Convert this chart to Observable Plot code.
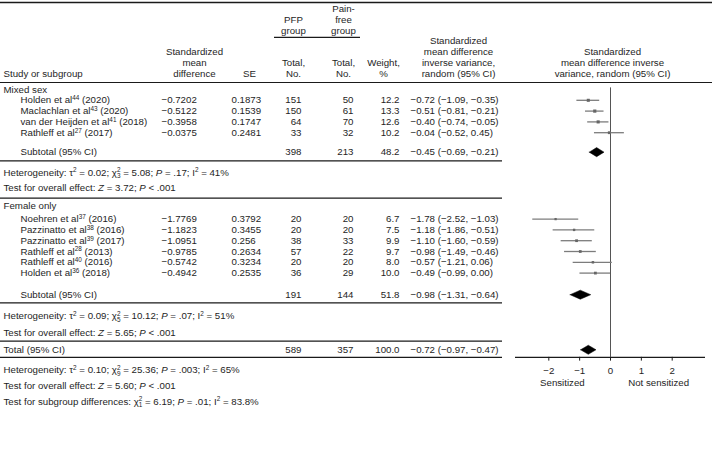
<!DOCTYPE html>
<html><head><meta charset="utf-8">
<script src="https://cdn.jsdelivr.net/npm/d3@7"></script>
<script src="https://cdn.jsdelivr.net/npm/@observablehq/plot@0.6"></script>
<style>
body{margin:0;background:#fff}
#wrap{position:relative;width:712px;height:452px}
#wrap svg{position:absolute;left:0;top:0;background:transparent}
</style>
</head><body><div id="wrap"></div>
<script>
// ---------------- DATA ----------------
const groupNames = ["Mixed sex", "Female only"];
const studyNames = [
  "Holden et al⁴⁴ (2020)", "Maclachlan et al⁴³ (2020)", "van der Heijden et al⁴¹ (2018)", "Rathleff et al²⁷ (2017)",
  "Noehren et al³⁷ (2016)", "Pazzinatto et al³⁸ (2016)", "Pazzinatto et al³⁹ (2017)", "Rathleff et al²⁸ (2013)",
  "Rathleff et al⁴⁰ (2016)", "Holden et al³⁶ (2018)"
];
const studyGroup = [0, 0, 0, 0, 1, 1, 1, 1, 1, 1];
const smd = [-0.7202, -0.5122, -0.3958, -0.0375, -1.7769, -1.1823, -1.0951, -0.9785, -0.5742, -0.4942];
const se = [0.1873, 0.1539, 0.1747, 0.2481, 0.3792, 0.3455, 0.256, 0.2634, 0.3234, 0.2535];
const nPFP = [151, 150, 64, 33, 20, 20, 38, 57, 20, 36];
const nPainFree = [50, 61, 70, 32, 20, 20, 33, 22, 20, 29];
const weight = [12.2, 13.3, 12.6, 10.2, 6.7, 7.5, 9.9, 9.7, 8.0, 10.0];
const est = [-0.72, -0.51, -0.40, -0.04, -1.78, -1.18, -1.10, -0.98, -0.57, -0.49];
const lo = [-1.09, -0.81, -0.74, -0.52, -2.52, -1.86, -1.60, -1.49, -1.21, -0.99];
const hi = [-0.35, -0.21, -0.05, 0.45, -1.03, -0.51, -0.59, -0.46, 0.06, 0.00];

const summaryLabels = ["Subtotal (95% CI)", "Subtotal (95% CI)", "Total (95% CI)"];
const summaryPFP = [398, 191, 589];
const summaryPainFree = [213, 144, 357];
const summaryWeight = [48.2, 51.8, 100.0];
const summaryEst = [-0.45, -0.98, -0.72];
const summaryLo = [-0.69, -1.31, -0.97];
const summaryHi = [-0.21, -0.64, -0.47];

const statsGroup1 = ["Heterogeneity: τ² = 0.02; χ²₃ = 5.08; P = .17; I² = 41%", "Test for overall effect: Z = 3.72; P < .001"];
const statsGroup2 = ["Heterogeneity: τ² = 0.09; χ²₅ = 10.12; P = .07; I² = 51%", "Test for overall effect: Z = 5.65; P < .001"];
const statsTotal = ["Heterogeneity: τ² = 0.10; χ²₉ = 25.36; P = .003; I² = 65%", "Test for overall effect: Z = 5.60; P < .001", "Test for subgroup differences: χ²₁ = 6.19; P = .01; I² = 83.8%"];

const axisTicks = [-2, -1, 0, 1, 2];
const axisSideLabels = ["Sensitized", "Not sensitized"];

// ---------------- LAYOUT ----------------
const FS = 9.7;
const FONT = "'Liberation Sans', Arial, Helvetica, sans-serif";
const Y0 = 89, U = 10.8;              // row slot 0 -> px, slot unit
const yScale = {domain: [0, 1], range: [Y0, Y0 + U], axis: null};
const col = {group: 3, study: 20, smd: 161, se: 231, pfp: 301, pain: 353, weight: 399, ci: 410,
             hSmd: 194, hSe: 249, hPfp: 293, hPain: 343, hWeight: 383, hCi: 458, hForest: 612, tableEnd: 502, full: 712};
const slot = {
  top: -8.06, hr1: -7.45, hr2: -6.45, hr3: -5.45, underline: -4.82,
  h1: -4.5, h2: -3.5, h3: -2.5, h4: -1.45, headLine: -0.65,
  groups: [0, 10.8],
  studies: [1, 2, 3, 4, 12, 13, 14, 15, 16, 17],
  summaries: [5.8, 19.0, 24.1],
  lines: [6.6, 10.05, 19.75, 23.3, 24.8],
  stats1: [7.7, 9.15], stats2: [21.0, 22.5], statsT: [26.0, 27.4, 28.9],
  axis: 24.8, tickLab: 26.05, sideLab: 27.15, zeroTop: -0.15
};

const fmtNum = v => String(v).replace("-", "−");
const fmt2 = v => (v < 0 ? "−" : "") + Math.abs(v).toFixed(2);
const ciText = (e, l, h) => `${fmt2(e)} (${fmt2(l)}, ${fmt2(h)})`;

// ---------------- TABLE CELLS ----------------
const cells = [];
const cell = (x, y, text, anchor) => cells.push({x, y, text, anchor});
// header
cell(col.hPain, slot.hr1, "Pain-", "middle");
cell(col.hPfp, slot.hr2, "PFP", "middle");
cell(col.hPain, slot.hr2, "free", "middle");
cell(col.hPfp, slot.hr3, "group", "middle");
cell(col.hPain, slot.hr3, "group", "middle");
cell(col.hSmd, slot.h2, "Standardized", "middle");
cell(col.hSmd, slot.h3, "mean", "middle");
cell(col.hSmd, slot.h4, "difference", "middle");
cell(col.group, slot.h4, "Study or subgroup", "start");
cell(col.hSe, slot.h4, "SE", "middle");
cell(col.hPfp, slot.h3, "Total,", "middle");
cell(col.hPfp, slot.h4, "No.", "middle");
cell(col.hPain, slot.h3, "Total,", "middle");
cell(col.hPain, slot.h4, "No.", "middle");
cell(col.hWeight, slot.h3, "Weight,", "middle");
cell(col.hWeight, slot.h4, "%", "middle");
["Standardized", "mean difference", "inverse variance,", "random (95% CI)"].forEach((t, i) => cell(col.hCi, [slot.h1, slot.h2, slot.h3, slot.h4][i], t, "middle"));
["Standardized", "mean difference inverse", "variance, random (95% CI)"].forEach((t, i) => cell(col.hForest, [slot.h2, slot.h3, slot.h4][i], t, "middle"));
// groups
groupNames.forEach((g, i) => cell(col.group, slot.groups[i], g, "start"));
// studies
studyNames.forEach((n, i) => {
  const y = slot.studies[i];
  cell(col.study, y, n, "start");
  cell(col.smd, y, fmtNum(smd[i]), "start");
  cell(col.se, y, String(se[i]), "start");
  cell(col.pfp, y, String(nPFP[i]), "end");
  cell(col.pain, y, String(nPainFree[i]), "end");
  cell(col.weight, y, weight[i].toFixed(1), "end");
  cell(col.ci, y, ciText(est[i], lo[i], hi[i]), "start");
});
// summaries
summaryLabels.forEach((n, i) => {
  const y = slot.summaries[i];
  cell(i < 2 ? col.study : col.group, y, n, "start");
  cell(col.pfp, y, String(summaryPFP[i]), "end");
  cell(col.pain, y, String(summaryPainFree[i]), "end");
  cell(col.weight, y, summaryWeight[i].toFixed(1), "end");
  cell(col.ci, y, ciText(summaryEst[i], summaryLo[i], summaryHi[i]), "start");
});
statsGroup1.forEach((t, i) => cell(col.group, slot.stats1[i], t, "start"));
statsGroup2.forEach((t, i) => cell(col.group, slot.stats2[i], t, "start"));
statsTotal.forEach((t, i) => cell(col.group, slot.statsT[i], t, "start"));

const hlines = [
  {y: slot.top, x1: 0, x2: col.full, w: 1.6},
  {y: slot.underline, x1: 274, x2: 360, w: 1.2},
  {y: slot.headLine, x1: 0, x2: col.full, w: 1.2},
  ...slot.lines.map(y => ({y, x1: 0, x2: col.tableEnd, w: 1.2}))
];

const textOpts = anchor => ({x: "x", y: "y", text: "text", textAnchor: anchor, lineAnchor: "middle", fill: "#1e1e1e"});

const table = Plot.plot({
  width: 712, height: 452, margin: 0,
  style: {fontFamily: FONT, fontSize: FS + "px", background: "transparent"},
  x: {domain: [0, 712], range: [0, 712], axis: null},
  y: yScale,
  marks: [
    Plot.ruleY(hlines, {y: "y", x1: "x1", x2: "x2", stroke: "#1a1a1a", strokeWidth: "w"}),
    ...["start", "middle", "end"].map(a => Plot.text(cells.filter(c => c.anchor === a), textOpts(a)))
  ]
});

// ---------------- FOREST ----------------
const studies = studyNames.map((n, i) => ({est: est[i], lo: lo[i], hi: hi[i], w: weight[i], y: slot.studies[i]}));
const H = 0.42;
const diamonds = summaryEst.flatMap((e, i) => {
  const y = slot.summaries[i], l = summaryLo[i], h = summaryHi[i];
  return [[l, y], [e, y - H], [h, y], [e, y + H], [l, y]].map(([x, yy]) => ({id: i, x, y: yy}));
});
const xDom = [-3.08, 3.08];
const forest = Plot.plot({
  width: 712, height: 452, margin: 0,
  style: {fontFamily: FONT, fontSize: FS + "px", background: "transparent"},
  x: {domain: xDom, range: [515, 705], axis: null},
  y: yScale,
  r: {type: "sqrt", domain: [0, 13.3], range: [0, 1.8]},
  marks: [
    Plot.ruleX([0], {y1: slot.zeroTop, y2: slot.axis, stroke: "#555", strokeWidth: 1}),
    Plot.ruleY(studies, {x1: "lo", x2: "hi", y: "y", stroke: "#7c7c7c", strokeWidth: 1.3}),
    Plot.dot(studies, {x: "est", y: "y", r: "w", symbol: "square", fill: "#666"}),
    Plot.line(diamonds, {x: "x", y: "y", z: "id", fill: "#000", stroke: "#000", strokeWidth: 0.5}),
    Plot.ruleY([slot.axis], {x1: xDom[0], x2: xDom[1], stroke: "#1a1a1a", strokeWidth: 1.2}),
    Plot.ruleX(axisTicks, {x: d => d, y1: slot.axis, y2: slot.axis + 0.35, stroke: "#1a1a1a"}),
    Plot.text(axisTicks, {x: d => d, y: slot.tickLab, text: d => d3.format("d")(d), fill: "#1e1e1e", lineAnchor: "middle"}),
    Plot.text(axisSideLabels, {x: (d, i) => i === 0 ? -1.56 : 1.56, y: slot.sideLab, text: d => d, fill: "#1e1e1e", lineAnchor: "middle"})
  ]
});

// ---------------- RICH TEXT (sup/sub/italic) ----------------
const SUP = "⁰¹²³⁴⁵⁶⁷⁸⁹", SUB = "₀₁₂₃₄₅₆₇₈₉";
function richify(svg) {
  const NS = "http://www.w3.org/2000/svg";
  svg.querySelectorAll("text").forEach(t => {
    if (t.querySelector("tspan")) return;
    const s = t.textContent;
    if (!/[⁰¹²³⁴⁵⁶⁷⁸⁹₀-₉]|[PZ] [=<]/.test(s)) return;
    const toks = [];
    for (const ch of s) {
      const type = SUP.includes(ch) ? "sup" : SUB.includes(ch) ? "sub" : "n";
      const c = type === "sup" ? String(SUP.indexOf(ch)) : type === "sub" ? String(SUB.indexOf(ch)) : ch;
      if (toks.length && toks[toks.length - 1].type === type) toks[toks.length - 1].text += c;
      else toks.push({type, text: c});
    }
    const out = [];
    toks.forEach(tk => {
      if (tk.type !== "n") { out.push(tk); return; }
      tk.text.split(/(\b[PZ](?= [=<]))/).forEach(p => { if (p) out.push({type: /^[PZ]$/.test(p) ? "it" : "n", text: p}); });
    });
    t.textContent = "";
    let cur = 0, supW = 0, prev = null;
    out.forEach(tk => {
      const ts = document.createElementNS(NS, "tspan");
      let dy = 0, dx = 0;
      if (tk.type === "sup") {
        ts.setAttribute("font-size", (FS * 0.66).toFixed(2));
        dy = -3.3 - cur; cur = -3.3; supW = tk.text.length * 0.556 * FS * 0.66;
      } else if (tk.type === "sub") {
        ts.setAttribute("font-size", (FS * 0.66).toFixed(2));
        if (prev === "sup") dx = -supW;
        dy = 2.6 - cur; cur = 2.6;
      } else {
        dy = -cur; cur = 0;
        if (tk.type === "it") ts.setAttribute("font-style", "italic");
      }
      if (dy) ts.setAttribute("dy", dy.toFixed(2));
      if (dx) ts.setAttribute("dx", dx.toFixed(2));
      ts.textContent = tk.text;
      t.appendChild(ts);
      prev = tk.type;
    });
  });
}
richify(table);
richify(forest);
table.style.background = "transparent";
forest.style.background = "transparent";
const wrap = document.getElementById("wrap");
wrap.appendChild(table);
wrap.appendChild(forest);
</script>
</body></html>
